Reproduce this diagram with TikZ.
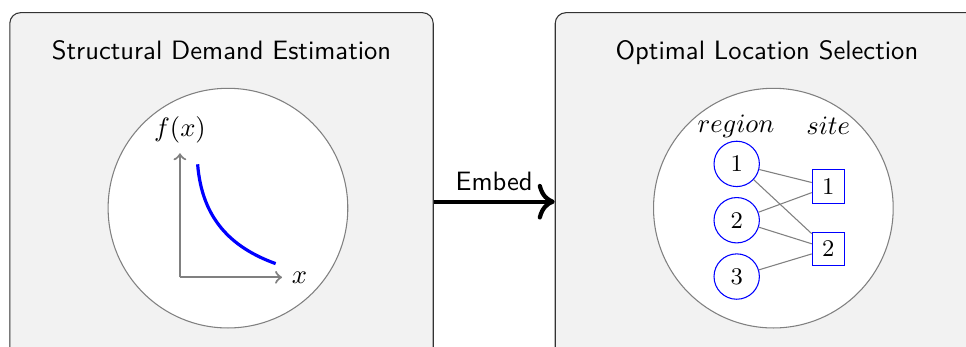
\documentclass[tikz,border=0pt]{standalone}
\usepackage{tikz}
\usetikzlibrary{arrows.meta,positioning,calc}
\usepackage{amsmath}

\begin{document}
\begin{tikzpicture}[>=to,
    panel/.style={draw=black!80, fill=gray!10, rounded corners=4pt,
                  minimum width=5.6cm, minimum height=5cm},
    ptitle/.style={font=\sffamily},
    disc/.style={circle, draw=gray, fill=white, minimum size=3.17cm},
    regionnode/.style={circle, draw=blue, minimum size=0.6cm, font=\small},
    sitenode/.style={rectangle, draw=blue, minimum size=0.42cm, font=\small},
    link/.style={draw=gray}]
  \useasboundingbox (-2.93,-1.909) rectangle (9.847,2.668);
  \clip (-2.93,-1.909) rectangle (9.847,2.668);

  %% Two stages
  \node[panel] (demand) at (0,0) {};
  \node[panel, right=1.6cm of demand] (location) {};
  \node[ptitle, below=0.25cm of demand.north] (tdemand) {Structural Demand Estimation};
  \node[ptitle, below=0.25cm of location.north] (tlocation) {Optimal Location Selection};
  \node[disc] (ddisc) at ($(demand.center)+(0.085,-0.085)$) {};
  \node[disc] (ldisc) at ($(location.center)+(0.085,-0.085)$) {};

  %% Demand curve
  \coordinate (o) at ($(demand.center)+(-0.55,-1.0)$);
  \draw[gray, thick, ->] (o) -- ++(0,1.64) node[above, black] (fx) {$f(x)$};
  \draw[gray, thick, ->] (o) -- ++(1.35,0) node[right, black] (xl) {$x$};
  \draw[blue, very thick, shift={(o)}]
    (0.234,1.495) .. controls (0.29,0.79) and (0.66,0.40) .. (1.266,0.181);

  %% Regions and sites
  \node (lregion) at ($(location.center)+(-0.41,1.0)$) {$region$};
  \node (lsite)   at ($(location.center)+(0.81,1.0)$)  {$site$};
  \node[regionnode] (r1) at ($(location.center)+(-0.4,0.5)$)   {1};
  \node[regionnode] (r2) at ($(location.center)+(-0.4,-0.245)$) {2};
  \node[regionnode] (r3) at ($(location.center)+(-0.4,-0.99)$)  {3};
  \node[sitenode] (s1) at ($(location.center)+(0.81,0.2)$)    {1};
  \node[sitenode] (s2) at ($(location.center)+(0.81,-0.625)$) {2};
  \foreach \from/\to in {r1/s1,r1/s2,r2/s1,r2/s2,r3/s2}
    \draw[link] (\from) -- (\to);

  %% Link between stages
  \draw[-{To[scale=1.25]}, ultra thick] (demand.east) -- node[above, font=\sffamily] (embed) {Embed} (location.west);
\end{tikzpicture}
\end{document}
